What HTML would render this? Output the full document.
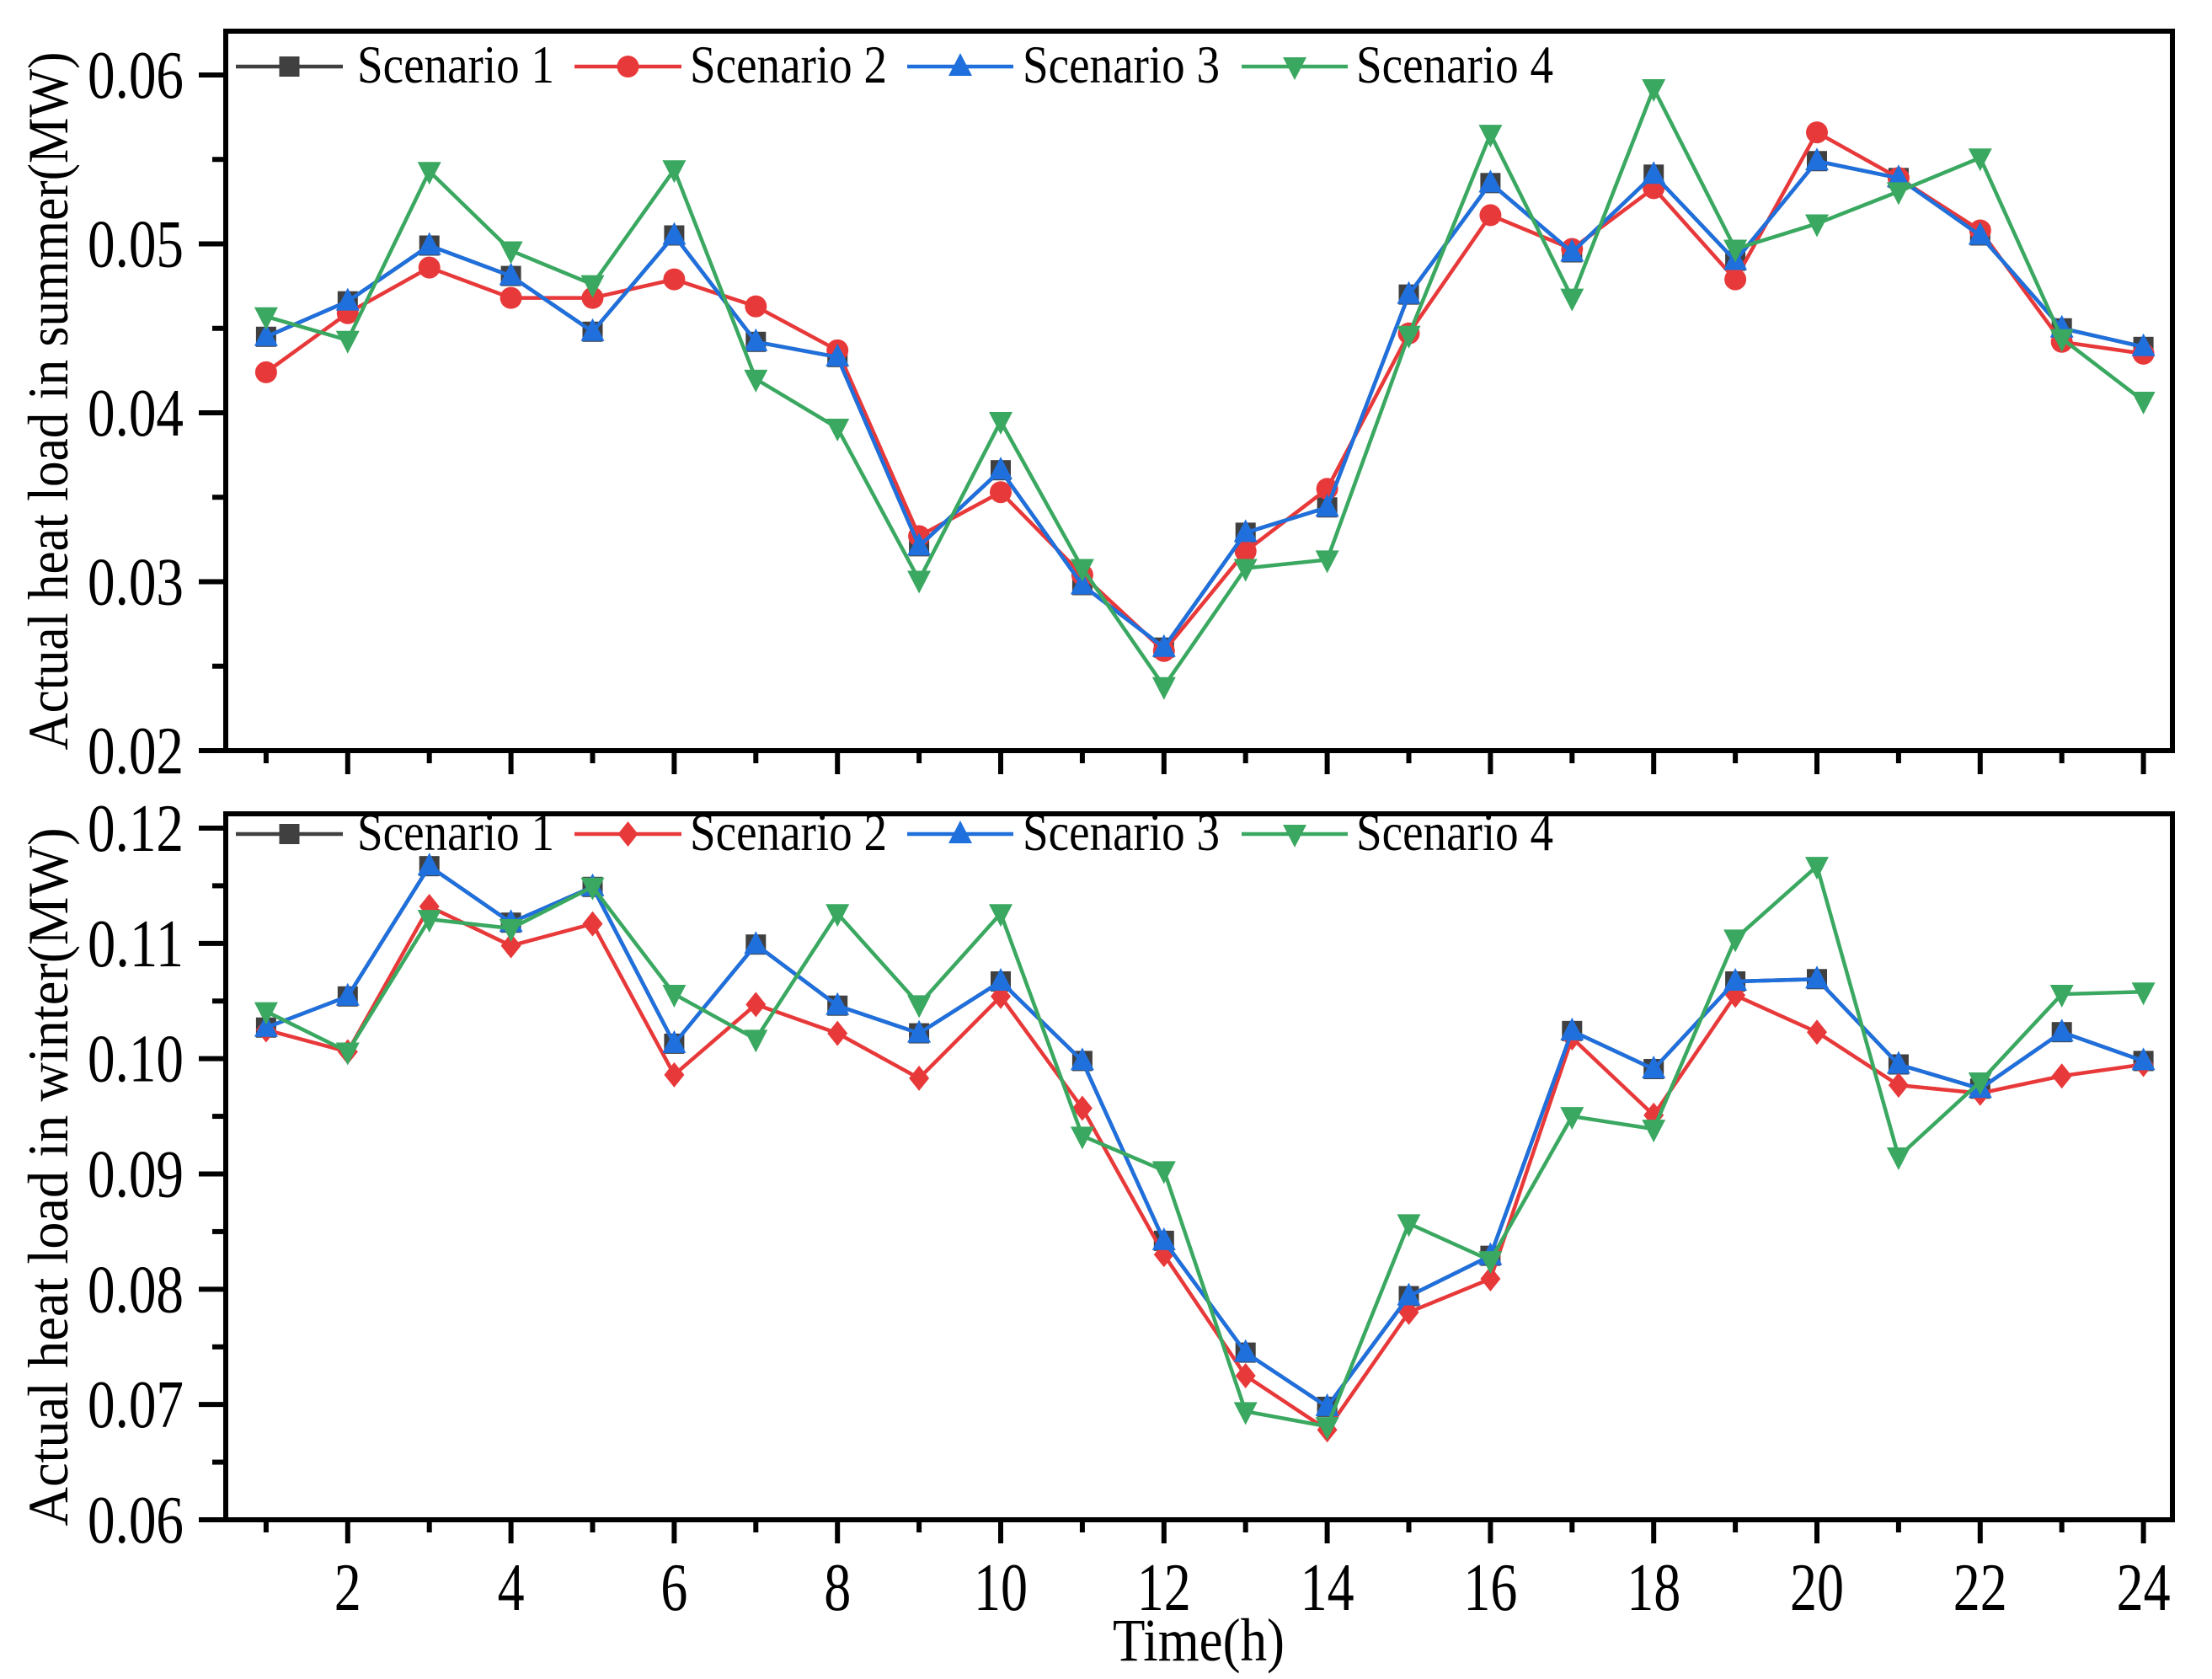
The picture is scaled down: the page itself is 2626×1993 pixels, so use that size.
<!DOCTYPE html>
<html><head><meta charset="utf-8"><style>
html,body{margin:0;padding:0;background:#fff;}
svg{display:block;font-family:"Liberation Serif",serif;}
</style></head><body>
<svg id="chart" width="2626" height="1993" viewBox="0 0 2626 1993" xmlns="http://www.w3.org/2000/svg">
<rect width="2626" height="1993" fill="#fff"/>
</svg>
<script>
const hours = [1,2,3,4,5,6,7,8,9,10,11,12,13,14,15,16,17,18,19,20,21,22,23,24];
const summerS1 = [0.0445,0.0466,0.0499,0.0481,0.0448,0.0505,0.0442,0.0433,0.0321,0.0366,0.0298,0.0261,0.0329,0.0344,0.0470,0.0536,0.0495,0.0541,0.0490,0.0549,0.0539,0.0505,0.0450,0.0439];
const summerS2 = [0.0424,0.0459,0.0486,0.0468,0.0468,0.0479,0.0463,0.0437,0.0327,0.0353,0.0304,0.0259,0.0318,0.0355,0.0447,0.0517,0.0497,0.0533,0.0479,0.0566,0.0539,0.0508,0.0442,0.0435];
const summerS3 = [0.0445,0.0466,0.0499,0.0481,0.0448,0.0505,0.0442,0.0433,0.0321,0.0366,0.0298,0.0261,0.0329,0.0344,0.0470,0.0536,0.0495,0.0541,0.0490,0.0549,0.0539,0.0505,0.0450,0.0439];
const summerS4 = [0.0457,0.0443,0.0543,0.0496,0.0476,0.0544,0.0420,0.0391,0.0301,0.0395,0.0308,0.0238,0.0308,0.0313,0.0446,0.0565,0.0468,0.0592,0.0497,0.0512,0.0531,0.0551,0.0444,0.0407];
const winterS1 = [0.1027,0.1054,0.1167,0.1118,0.1149,0.1013,0.1099,0.1046,0.1022,0.1067,0.0998,0.0842,0.0745,0.0698,0.0794,0.0829,0.1024,0.0991,0.1067,0.1069,0.0995,0.0974,0.1023,0.0998];
const winterS2 = [0.1025,0.1006,0.1132,0.1098,0.1117,0.0986,0.1047,0.1022,0.0983,0.1054,0.0957,0.0830,0.0725,0.0678,0.0780,0.0809,0.1018,0.0951,0.1055,0.1023,0.0977,0.0970,0.0985,0.0995];
const winterS3 = [0.1027,0.1054,0.1167,0.1118,0.1149,0.1013,0.1099,0.1046,0.1022,0.1067,0.0998,0.0842,0.0745,0.0698,0.0794,0.0829,0.1024,0.0991,0.1067,0.1069,0.0995,0.0974,0.1023,0.0998];
const winterS4 = [0.1041,0.1006,0.1121,0.1113,0.1149,0.1056,0.1017,0.1126,0.1047,0.1126,0.0933,0.0903,0.0694,0.0681,0.0857,0.0825,0.0950,0.0939,0.1104,0.1167,0.0915,0.0980,0.1056,0.1058];
const summerTicks = [0.02,0.03,0.04,0.05,0.06];
const summerTickLabels = ["0.02","0.03","0.04","0.05","0.06"];
const winterTicks = [0.06,0.07,0.08,0.09,0.10,0.11,0.12];
const winterTickLabels = ["0.06","0.07","0.08","0.09","0.10","0.11","0.12"];
const xTickLabels = ["2","4","6","8","10","12","14","16","18","20","22","24"];
const seriesNames = ["Scenario 1","Scenario 2","Scenario 3","Scenario 4"];

const NS="http://www.w3.org/2000/svg";
const svg=document.getElementById('chart');
function mk(tag,attrs,parent){const e=document.createElementNS(NS,tag);for(const k in attrs)e.setAttribute(k,attrs[k]);(parent||svg).appendChild(e);return e;}
const L=268,R=2579;
function xs(h){return 219+(h-0)*96.9;}
const colors=["#404040","#e8393a","#1f6fdc","#3aa860"];
const markers=["square","circle","triangle","invtriangle"];
const markers2=["square","diamond","triangle","invtriangle"];

function marker(g,type,x,y,c){
  const s=12;let e;
  if(type==="square")e=mk('rect',{x:x-s,y:y-s,width:2*s,height:2*s,fill:c},g);
  else if(type==="circle")e=mk('circle',{cx:x,cy:y,r:s+1,fill:c},g);
  else if(type==="diamond")e=mk('polygon',{points:`${x},${y-15} ${x+12},${y} ${x},${y+15} ${x-12},${y}`,fill:c},g);
  else if(type==="triangle")e=mk('polygon',{points:`${x},${y-16} ${x+14},${y+11} ${x-14},${y+11}`,fill:c},g);
  else e=mk('polygon',{points:`${x-14},${y-11} ${x+14},${y-11} ${x},${y+16}`,fill:c},g);
  
  
}

function panel(name,top,bottom,ymin,ymax,series,mks){
  const ys=v=>bottom-(v-ymin)/(ymax-ymin)*(bottom-top);
  const g=mk('g',{});
  
  
  series.forEach((arr,si)=>{
    const sg=mk('g',{},g);
    
    
    const pts=arr.map((v,i)=>xs(hours[i])+','+ys(v)).join(' ');
    const pl=mk('polyline',{points:pts,fill:'none',stroke:colors[si],'stroke-width':4.5},sg);
    
    
    arr.forEach((v,i)=>marker(sg,mks[si],xs(hours[i]),ys(v),colors[si]));
  });
  return ys;
}

function frame(name,top,bottom,ys,ticks,tickLabels,title,legendY,mks,showXLabels){
  const g=mk('g',{});
  
  
  const fr=mk('rect',{x:L,y:top,width:R-L,height:bottom-top,fill:'none',stroke:'#000','stroke-width':6},g);
  
  
  ticks.forEach((t,i)=>{
    const y=ys(t);
    mk('line',{x1:L-32,x2:L,y1:y,y2:y,stroke:'#000','stroke-width':6},g);
    const tx=mk('text',{x:218,y:y+27,'text-anchor':'end','font-size':80,textLength:114,lengthAdjust:'spacingAndGlyphs'},g);
    tx.textContent=tickLabels[i];
    
    
    if(i<ticks.length-1){const ym=ys((t+ticks[i+1])/2);mk('line',{x1:L-16,x2:L,y1:ym,y2:ym,stroke:'#000','stroke-width':6},g);}
  });
  hours.forEach(h=>{
    const x=xs(h);const major=h%2===0;
    mk('line',{x1:x,x2:x,y1:bottom,y2:bottom+(major?28:15),stroke:'#000','stroke-width':6},g);
  });
  if(showXLabels){
    xTickLabels.forEach(l=>{
      const tx=mk('text',{x:xs(+l),y:1911,'text-anchor':'middle','font-size':80,textLength:l.length*32,lengthAdjust:'spacingAndGlyphs'},g);
      tx.textContent=l;
      
      
    });
  }
  const cy=(top+bottom)/2+12;
  const yt=mk('text',{x:0,y:0,'text-anchor':'middle','font-size':68,textLength:829,lengthAdjust:'spacingAndGlyphs',transform:`translate(80,${cy}) rotate(-90)`},g);
  yt.textContent=title;
  
  
  const lx=[[280,407,424],[682,809,819],[1077,1203,1214],[1474,1600,1610]];
  seriesNames.forEach((n,i)=>{
    const lg=mk('g',{},g);
    
    
    mk('line',{x1:lx[i][0],x2:lx[i][1],y1:legendY,y2:legendY,stroke:colors[i],'stroke-width':4.5},lg);
    marker(lg,mks[i],(lx[i][0]+lx[i][1])/2,legendY,colors[i]);
    const t=mk('text',{x:lx[i][2],y:legendY+19,'font-size':64,textLength:234,lengthAdjust:'spacingAndGlyphs'},lg);
    t.textContent=n;
    
    
  });
}

const sTop=37,sBot=891;
const ysS=panel('summer',89,891,0.02,0.06,[summerS1,summerS2,summerS3,summerS4],markers);
frame('summer',sTop,sBot,ysS,summerTicks,summerTickLabels,'Actual heat load in summer(MW)',79,markers,false);
const wTop=966,wBot=1804;
const ysW=panel('winter',983,1804,0.06,0.12,[winterS1,winterS2,winterS3,winterS4],markers2);
frame('winter',wTop,wBot,ysW,winterTicks,winterTickLabels,'Actual heat load in winter(MW)',990,markers2,true);

const xt=mk('text',{x:1423,y:1971,'text-anchor':'middle','font-size':72,textLength:204,lengthAdjust:'spacingAndGlyphs'});
xt.textContent='Time(h)';


</script>
</body></html>
